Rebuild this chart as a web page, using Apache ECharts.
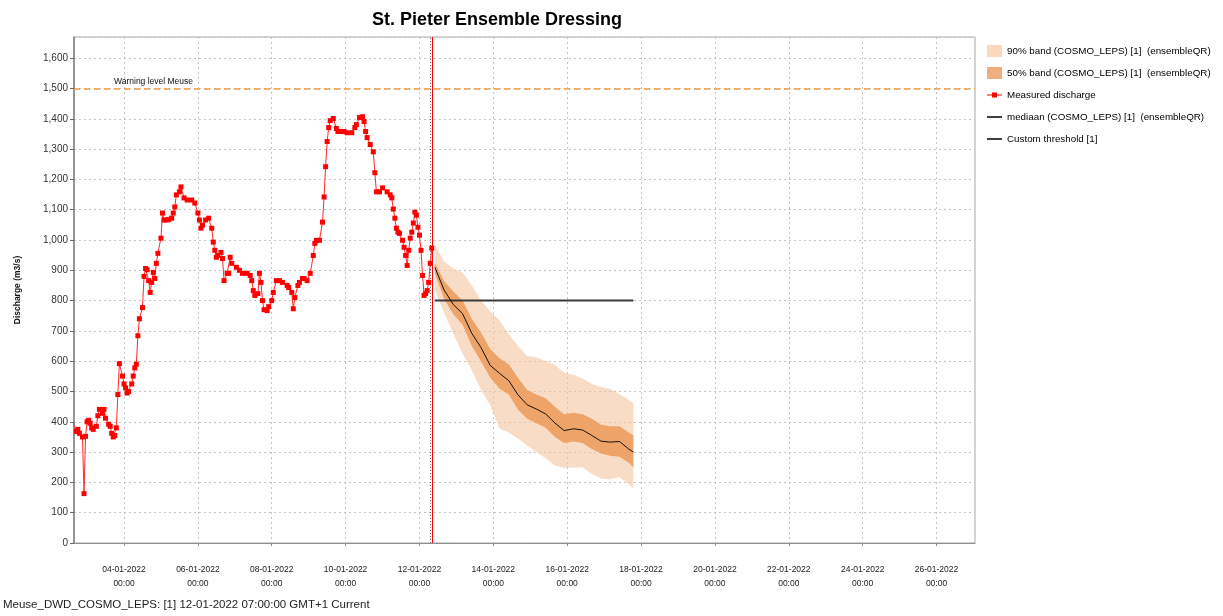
<!DOCTYPE html>
<html><head><meta charset="utf-8">
<script src="https://cdn.jsdelivr.net/npm/echarts@6/dist/echarts.min.js"></script>
<style>html,body{margin:0;padding:0;background:#fff}#c{width:1223px;height:616px}</style>
</head><body><div id="c"></div>
<script>
// time offsets are hours since 2022-01-02 00:00 (GMT+1 display time)
const BASE_UTC = Date.UTC(2022, 0, 2, 0, 0);

const xTickHours = [48, 96, 144, 192, 240, 288, 336, 384, 432, 480, 528, 576]; // 04-01 ... 26-01 00:00

const measuredHours = [15,17,18,19,21,22,23,24,25,26,27,28,30,31,32,34,35,36,38,39,40,41,42,43,44,45,47,48,49,50,51,53,54,55,56,57,58,60,61,62,63,64,65,66,67,68,69,70,72,73,74,76,77,79,80,81,82,84,85,87,89,92,94,96,97,98,99,101,103,105,106,107,108,109,111,112,113,115,116,117,118,121,123,125,128,130,131,132,133,135,136,137,138,139,141,142,144,145,147,149,151,154,155,157,158,159,161,162,164,165,167,169,171,172,173,175,177,178,179,180,181,182,184,186,187,189,191,193,196,198,199,201,203,204,205,206,208,210,211,212,214,216,219,221,222,223,224,225,226,227,229,230,231,232,233,234,235,236,237,238,239,240,241,242,243,244,245,246,247,248];
const measuredValues = [395,368,375,362,350,163,352,400,405,395,380,375,385,420,441,428,441,412,392,385,362,350,355,380,490,592,551,525,512,495,500,525,551,578,590,684,740,777,880,906,902,866,827,860,893,873,923,956,1006,1089,1066,1066,1068,1072,1089,1109,1149,1159,1175,1139,1132,1132,1122,1089,1066,1039,1049,1066,1072,1039,993,966,943,949,959,939,866,890,890,943,923,910,900,890,890,883,866,833,817,823,890,860,800,770,767,780,800,827,866,866,860,850,843,827,773,810,850,860,873,873,866,890,949,989,999,999,1059,1142,1242,1325,1371,1394,1401,1368,1358,1358,1358,1354,1354,1371,1381,1404,1407,1391,1358,1338,1315,1291,1222,1159,1159,1172,1159,1149,1139,1102,1072,1039,1026,1022,999,976,949,916,966,1006,1026,1056,1092,1082,1042,1016,966,883,817,823,833,860,923,973];

const forecastHours = [250,256,262,268,274,280,286,292,298,304,310,316,322,328,334,340,346,352,358,364,370,376,379];
const band90Upper  = [985,930,905,893,850,800,765,735,690,650,617,613,600,588,562,555,543,525,515,508,492,472,462];
const band50Upper  = [925,865,830,800,740,695,640,610,590,545,505,490,478,450,425,430,425,410,390,385,385,365,355];
const medianValues = [910,835,787,757,692,645,586,560,536,489,456,442,426,396,371,377,373,355,336,333,335,310,300];
const band50Lower  = [890,805,755,720,650,600,545,510,490,440,410,395,380,350,330,335,330,310,295,288,285,265,250];
const band90Lower  = [835,760,690,625,570,505,455,378,365,345,322,300,280,256,248,248,250,228,212,210,218,195,180];

const thresholdHours = [250, 379];
const thresholdValues = [800, 800];
const warningLevel = 1500;
const t0Hour = 248;
const lastObsHour = 247;

const names = {
  b90: '90% band (COSMO_LEPS) [1]  (ensembleQR)',
  b50: '50% band (COSMO_LEPS) [1]  (ensembleQR)',
  meas: 'Measured discharge',
  med: 'mediaan (COSMO_LEPS) [1]  (ensembleQR)',
  thr: 'Custom threshold [1]'
};

const pair = (xs, ys) => xs.map((x, i) => [x, ys[i]]);
const pad = n => String(n).padStart(2, '0');
const fmtX = h => {
  const d = new Date(BASE_UTC + h * 3600000);
  return pad(d.getUTCDate()) + '-' + pad(d.getUTCMonth() + 1) + '-' + d.getUTCFullYear() + '\n' + pad(d.getUTCHours()) + ':' + pad(d.getUTCMinutes());
};
const fmtY = v => v >= 1000 ? Math.floor(v / 1000) + ',' + String(v % 1000).padStart(3, '0') : String(v);

function bandSeries(name, upper, lower, fill, opacity, legendColor, z) {
  return {
    name: name, type: 'custom', coordinateSystem: 'cartesian2d', silent: true, z: z, clip: true,
    itemStyle: {color: legendColor},
    data: forecastHours.map((h, i) => [h, lower[i], upper[i]]),
    encode: {x: 0, y: [1, 2]},
    renderItem: (params, api) => {
      if (params.dataIndex !== 0) return null;
      const pts = [];
      for (let i = 0; i < forecastHours.length; i++) pts.push(api.coord([forecastHours[i], upper[i]]));
      for (let i = forecastHours.length - 1; i >= 0; i--) pts.push(api.coord([forecastHours[i], lower[i]]));
      return {type: 'polygon', shape: {points: pts}, style: {fill: fill, opacity: opacity}};
    }
  };
}

// legend icons (bbox padded to 15x12 so they are not stretched)
const ICON_MEAS = 'path://M0,0 L0.01,0 L0,0.01 Z M0,5.4 H5 V3.5 H10 V5.4 H15 V6.6 H10 V8.5 H5 V6.6 H0 Z M0,12 L0.01,12 L0,11.99 Z';
const ICON_LINE = 'path://M0,0 L0.01,0 L0,0.01 Z M0,5.2 H15 V6.8 H0 Z M0,12 L0.01,12 L0,11.99 Z';

const FONT = 'Liberation Sans';
const chart = echarts.init(document.getElementById('c'), null, {renderer: 'canvas'});
chart.setOption({
  animation: false,
  backgroundColor: '#fff',
  textStyle: {fontFamily: FONT},
  title: {
    text: 'St. Pieter Ensemble Dressing',
    left: 492, top: 6, textAlign: 'center',
    textStyle: {fontFamily: FONT, fontSize: 18, fontWeight: 'bold', color: '#000'}
  },
  legend: {
    orient: 'vertical', left: 982, top: 40, itemGap: 10,
    itemWidth: 15, itemHeight: 12, selectedMode: false,
    textStyle: {fontFamily: FONT, fontSize: 9.8, color: '#000'},
    data: [
      {name: names.b90, icon: 'rect'},
      {name: names.b50, icon: 'rect'},
      {name: names.meas, icon: ICON_MEAS},
      {name: names.med, icon: ICON_LINE},
      {name: names.thr, icon: ICON_LINE}
    ]
  },
  grid: {left: 74, right: 248, top: 37, bottom: 73, show: true, borderColor: '#a8a8a8', borderWidth: 1},
  xAxis: {
    type: 'value', min: 15.5, max: 601,
    axisLine: {show: true, lineStyle: {color: '#909090', width: 1}},
    axisTick: {show: true, length: 3, customValues: xTickHours, lineStyle: {color: '#909090'}},
    axisLabel: {
      formatter: fmtX, customValues: xTickHours,
      margin: 20, lineHeight: 14, fontSize: 8.5, color: '#222', fontFamily: FONT
    },
    splitLine: {show: true, lineStyle: {color: '#c4c4c4', type: [2, 3], width: 1}}
  },
  yAxis: {
    type: 'value', min: 0, max: 1670, interval: 100,
    name: 'Discharge (m3/s)', nameLocation: 'middle', nameGap: 52, nameRotate: 90,
    nameTextStyle: {fontFamily: FONT, fontSize: 8.5, fontWeight: 'bold', color: '#111'},
    axisLine: {show: true, lineStyle: {color: '#808080', width: 1.5}},
    axisTick: {show: true, length: 4, lineStyle: {color: '#666'}},
    axisLabel: {
      formatter: fmtY, showMaxLabel: false,
      margin: 6, fontSize: 10, color: '#333', fontFamily: FONT
    },
    splitLine: {show: true, lineStyle: {color: '#c4c4c4', type: [2, 3], width: 1}}
  },
  series: [
    bandSeries(names.b90, band90Upper, band90Lower, '#F5C49E', 0.6, '#F9D8BF', 2),
    bandSeries(names.b50, band50Upper, band50Lower, '#EB9650', 0.8, '#F0AE7C', 3),
    {
      name: names.med, type: 'line', data: pair(forecastHours, medianValues),
      symbol: 'none', itemStyle: {color: '#000'}, lineStyle: {color: '#111', width: 1}, z: 5
    },
    {
      name: names.thr, type: 'line', data: pair(thresholdHours, thresholdValues),
      symbol: 'none', itemStyle: {color: '#000'}, lineStyle: {color: '#3a3a3a', width: 2}, z: 4
    },
    {
      name: names.meas, type: 'line', data: pair(measuredHours, measuredValues),
      symbol: 'rect', symbolSize: 5, showSymbol: true,
      itemStyle: {color: '#ff0000'}, lineStyle: {color: '#ff2a2a', width: 1}, z: 6,
      markLine: {
        silent: true, symbol: ['none', 'none'], animation: false,
        data: [
          {xAxis: lastObsHour, lineStyle: {color: '#666', type: [1, 2], width: 1}, label: {show: false}},
          {xAxis: t0Hour, lineStyle: {color: '#ff0000', type: 'solid', width: 1}, label: {show: false}},
          {yAxis: warningLevel, lineStyle: {color: '#F59A3C', type: [6, 4], width: 1.5},
           label: {show: true, formatter: 'Warning level Meuse', position: 'insideStartTop',
                   distance: [40, 2], fontSize: 8.5, color: '#111', fontFamily: FONT}}
        ]
      }
    }
  ],
  graphic: [{
    type: 'text', left: 3, top: 599,
    style: {text: 'Meuse_DWD_COSMO_LEPS: [1] 12-01-2022 07:00:00 GMT+1 Current', fontSize: 11.5, fontFamily: FONT, fill: '#222'}
  }]
});
</script></body></html>
